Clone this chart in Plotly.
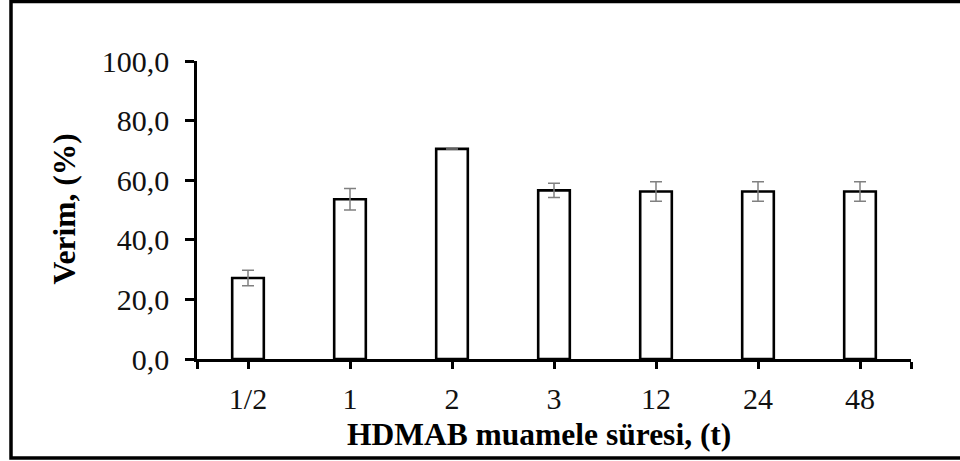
import plotly.graph_objects as go

# Treatment durations (hours) and measured yield with standard deviation
durations = ["1/2", "1", "2", "3", "12", "24", "48"]
yield_pct = [27.2, 53.6, 70.5, 56.6, 56.2, 56.2, 56.2]
yield_err = [2.6, 3.6, 0.0, 2.4, 3.3, 3.3, 3.3]
y_ticks = [0, 20, 40, 60, 80, 100]

positions = list(range(len(durations)))
serif = "Liberation Serif, Times New Roman, serif"

fig = go.Figure()
fig.add_trace(go.Bar(
    x=positions,
    y=yield_pct,
    width=0.31,
    marker=dict(color="white", line=dict(color="black", width=2.6)),
    error_y=dict(type="data", array=yield_err, visible=True,
                 color="#808080", thickness=1.5, width=6),
    showlegend=False,
))

# ticks at each category centre plus the two axis ends
tick_vals = [-0.5] + positions + [len(durations) - 0.5]
tick_text = [""] + durations + [""]

fig.update_xaxes(
    range=[-0.5, len(durations) - 0.5],
    tickvals=tick_vals, ticktext=tick_text,
    showline=True, linecolor="black", linewidth=2.6,
    ticks="outside", ticklen=7, tickwidth=2.6, tickcolor="black",
    ticklabelstandoff=4,
    showgrid=False, zeroline=False,
    tickfont=dict(family=serif, size=30, color="#111111"),
    fixedrange=True,
)
fig.update_yaxes(
    range=[0, 100],
    tickvals=y_ticks, tickformat=".1f",
    showline=True, linecolor="black", linewidth=2.6,
    ticks="outside", ticklen=9, tickwidth=2.6, tickcolor="black",
    ticklabelstandoff=10,
    showgrid=False, zeroline=False,
    tickfont=dict(family=serif, size=30, color="#111111"),
    fixedrange=True,
)

fig.update_layout(
    width=960, height=461,
    margin=dict(l=197, r=49, t=61, b=102),
    paper_bgcolor="white", plot_bgcolor="white",
    separators=",.",
    font=dict(family=serif, color="black"),
    annotations=[
        dict(text="<b>Verim, (%)</b>", xref="paper", yref="paper",
             x=-0.185, y=0.505, textangle=-90, showarrow=False,
             font=dict(family=serif, size=31.5, color="black"),
             xanchor="center", yanchor="middle"),
        dict(text="<b>HDMAB muamele süresi, (t)</b>", xref="paper", yref="paper",
             x=0.479, y=-0.255, showarrow=False,
             font=dict(family=serif, size=31.5, color="black"),
             xanchor="center", yanchor="middle"),
    ],
    shapes=[
        dict(type="rect", xref="paper", yref="paper",
             x0=-0.2605, x1=1.1, y0=-0.3322, y1=1.1997,
             line=dict(color="black", width=3.5), layer="below"),
    ],
)

fig.write_html("out.html")
